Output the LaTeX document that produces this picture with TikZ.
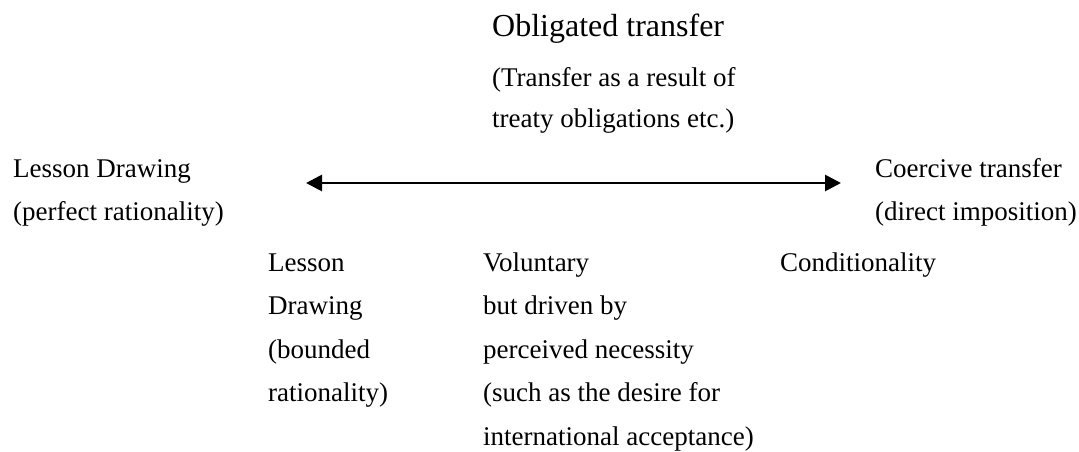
\documentclass[tikz,border=0pt]{standalone}
\usepackage{fontspec}
\setmainfont{Liberation Serif}
\usetikzlibrary{arrows.meta}
\begin{document}
\begin{tikzpicture}[x=1pt, y=-1pt,
  lbl/.style={anchor=base west, inner sep=0pt, font=\fontsize{27}{32}\selectfont},
  ttl/.style={anchor=base west, inner sep=0pt, font=\fontsize{32}{38}\selectfont},
  scalearrow/.style={line width=2.8pt, {Triangle[length=16pt,width=16pt]}-{Triangle[length=16pt,width=16pt]}}]
\useasboundingbox (0,0) rectangle (1079,452);

% top: obligated transfer
\node[ttl] (obl)  at (492,37)  {Obligated transfer};
\node[lbl] (obl1) at (492,86)  {(Transfer as a result of};
\node[lbl] (obl2) at (492,127) {treaty obligations etc.)};

% the two ends of the scale
\node[lbl] (left1)  at (13,177)  {Lesson Drawing};
\node[lbl] (left2)  at (13,220)  {(perfect rationality)};
\node[lbl] (right1) at (875,177) {Coercive transfer};
\node[lbl] (right2) at (875,220) {(direct imposition)};

% the scale itself
\coordinate (sL) at (306,183);
\coordinate (sR) at (841,183);
\draw[scalearrow] (sL) -- (sR);

% points along the scale
\node[lbl] (a1) at (268,271)   {Lesson};
\node[lbl] (a2) at (268,314.5) {Drawing};
\node[lbl] (a3) at (268,358)   {(bounded};
\node[lbl] (a4) at (268,401.5) {rationality)};

\node[lbl] (b1) at (483,271)   {Voluntary};
\node[lbl] (b2) at (483,314.5) {but driven by};
\node[lbl] (b3) at (483,358)   {perceived necessity};
\node[lbl] (b4) at (483,401.5) {(such as the desire for};
\node[lbl] (b5) at (483,445)   {international acceptance)};

\node[lbl] (c1) at (780,271)   {Conditionality};
\end{tikzpicture}
\end{document}
